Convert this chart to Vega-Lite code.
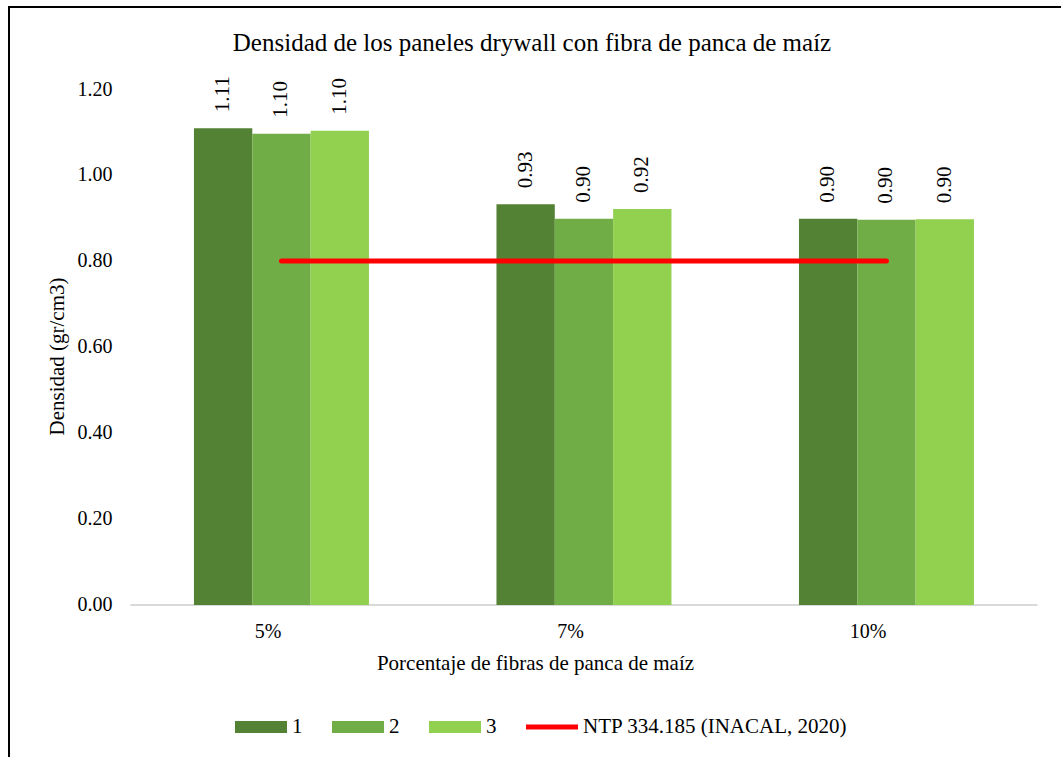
{
  "$schema": "https://vega.github.io/schema/vega-lite/v6.json",
  "width": 1052,
  "height": 750,
  "autosize": {"type": "none"},
  "padding": {"left": 9, "top": 7, "right": 0, "bottom": 0},
  "background": "#ffffff",
  "config": {
    "font": "Liberation Serif",
    "view": {"stroke": "#000000", "strokeWidth": 2, "strokeDash": [1052, 1802, 760, 10]},
    "axis": {"labelFont": "Liberation Serif", "titleFont": "Liberation Serif", "labelColor": "#000000", "titleColor": "#000000", "titleFontWeight": "normal", "grid": false, "ticks": false, "domain": false},
    "legend": {"labelFont": "Liberation Serif", "labelColor": "#000000"}
  },
  "title": {
    "text": "Densidad de los paneles drywall con fibra de panca de maíz",
    "font": "Liberation Serif",
    "fontSize": 25,
    "fontWeight": "normal",
    "color": "#000000",
    "anchor": "middle",
    "frame": "group",
    "offset": 0,
    "baseline": "alphabetic",
    "dy": 69,
    "dx": -3
  },
  "datasets": {
    "bars": [
      {"pct": "5%", "serie": "1", "val": 1.109},
      {"pct": "5%", "serie": "2", "val": 1.096},
      {"pct": "5%", "serie": "3", "val": 1.103},
      {"pct": "7%", "serie": "1", "val": 0.932},
      {"pct": "7%", "serie": "2", "val": 0.898},
      {"pct": "7%", "serie": "3", "val": 0.921},
      {"pct": "10%", "serie": "1", "val": 0.898},
      {"pct": "10%", "serie": "2", "val": 0.896},
      {"pct": "10%", "serie": "3", "val": 0.897}
    ],
    "ntp": [
      {"pct": "5%", "pct2": "10%", "val": 0.8, "serie": "NTP 334.185 (INACAL, 2020)"}
    ],
    "base": [
      {"pct": "5%", "pct2": "10%", "val": 0}
    ]
  },
  "layer": [
    {
      "data": {"name": "base"},
      "mark": {"type": "rule", "color": "#D9D9D9", "strokeWidth": 2, "xOffset": -151, "x2Offset": 151},
      "encoding": {
        "x": {"field": "pct", "type": "nominal"},
        "x2": {"field": "pct2"},
        "y": {"field": "val", "type": "quantitative"}
      }
    },
    {
      "data": {"name": "bars"},
      "mark": {"type": "bar"},
      "encoding": {
        "x": {
          "field": "pct",
          "type": "nominal",
          "scale": {"domain": ["5%", "7%", "10%"], "paddingInner": 0.4215, "paddingOuter": 0.4496, "align": 0.68},
          "axis": {
            "orient": "bottom",
            "offset": -152,
            "labelAngle": 0,
            "labelFontSize": 20,
            "labelPadding": 26,
            "title": "Porcentaje de fibras de panca de maíz",
            "titleFontSize": 21,
            "titlePadding": 11
          }
        },
        "xOffset": {
          "field": "serie",
          "type": "nominal",
          "scale": {"domain": ["1", "2", "3"], "paddingInner": 0, "paddingOuter": 0}
        },
        "y": {
          "field": "val",
          "type": "quantitative",
          "scale": {"domain": [-0.3535, 1.3907], "nice": false, "zero": false},
          "axis": {
            "orient": "left",
            "offset": -121,
            "values": [0, 0.2, 0.4, 0.6, 0.8, 1.0, 1.2],
            "format": ".2f",
            "labelFontSize": 20,
            "labelPadding": 18,
            "title": "Densidad (gr/cm3)",
            "titleFontSize": 21,
            "titlePadding": 10,
            "titleY": 349
          }
        },
        "y2": {"datum": 0},
        "color": {
          "field": "serie",
          "type": "nominal",
          "scale": {
            "domain": ["1", "2", "3", "NTP 334.185 (INACAL, 2020)"],
            "range": ["#548235", "#70AD47", "#92D050", "#FF0000"]
          },
          "legend": {
            "orient": "none",
            "legendX": 226,
            "legendY": 694,
            "direction": "horizontal",
            "columns": 4,
            "title": null,
            "padding": 0,
            "symbolSize": 2704,
            "labelFontSize": 21,
            "labelOffset": 5,
            "labelLimit": 500,
            "columnPadding": 29,
            "encode": {
              "symbols": {
                "update": {
                  "shape": {"signal": "datum.value == 'NTP 334.185 (INACAL, 2020)' ? 'M-1,-0.1H1V0.1H-1Z' : 'M-1,-0.23H1V0.23H-1Z'"},
                  "fill": {"signal": "scale('color', datum.value)"},
                  "stroke": {"value": "transparent"},
                  "strokeWidth": {"value": 0},
                  "opacity": {"value": 1}
                }
              }
            }
          }
        }
      }
    },
    {
      "data": {"name": "bars"},
      "mark": {"type": "text", "angle": 270, "align": "left", "baseline": "middle", "dx": 16, "fontSize": 21, "font": "Liberation Serif", "color": "#000000"},
      "encoding": {
        "x": {"field": "pct", "type": "nominal"},
        "xOffset": {"field": "serie", "type": "nominal"},
        "y": {"field": "val", "type": "quantitative"},
        "text": {"field": "val", "type": "quantitative", "format": ".2f"}
      }
    },
    {
      "data": {"name": "ntp"},
      "mark": {"type": "rule", "strokeWidth": 5, "strokeCap": "round"},
      "encoding": {
        "x": {"field": "pct", "type": "nominal"},
        "x2": {"field": "pct2"},
        "y": {"field": "val", "type": "quantitative"},
        "color": {"field": "serie", "type": "nominal"}
      }
    }
  ]
}
